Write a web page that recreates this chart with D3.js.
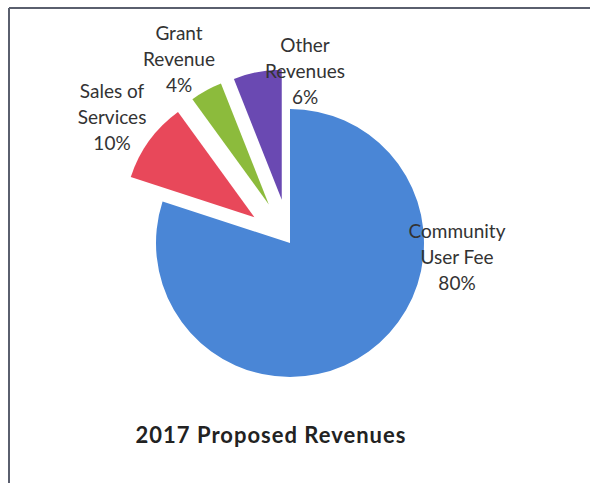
<!DOCTYPE html>
<html>
<head>
<meta charset="utf-8">
<script src="https://cdn.jsdelivr.net/npm/d3@7"></script>
<style>
  html, body { margin: 0; padding: 0; background: #fff; }
  svg { display: block; }
</style>
</head>
<body>
<svg id="chart" width="590" height="483"></svg>
<script>
// Revenue sources, clockwise from 12 o'clock
const categories = ["Community User Fee", "Sales of Services", "Grant Revenue", "Other Revenues"];
const labelLines = [["Community", "User Fee"], ["Sales of", "Services"], ["Grant", "Revenue"], ["Other", "Revenues"]];
const values = [80, 10, 4, 6];
const title = "2017 Proposed Revenues";

const colors = ["#4a86d6", "#e8485a", "#8cbb3c", "#6a49b2"];
const exploded = new Set(["Sales of Services", "Grant Revenue", "Other Revenues"]);

const W = 590, H = 483;
const cx = 290, cy = 243;
const rMain = 134, rOut = 130, explode = 44;

// label anchor (centre of the text block) relative to pie centre
const labelPos = {
  "Community User Fee": [167, 14],
  "Sales of Services": [-178, -126],
  "Grant Revenue": [-111, -184],
  "Other Revenues": [15, -172]
};

const svg = d3.select("#chart");

// frame lines (top and left edges)
svg.append("line").attr("x1", 9).attr("y1", 8).attr("x2", W).attr("y2", 8)
  .attr("stroke", "#5a5f6e").attr("stroke-width", 2);
svg.append("line").attr("x1", 9).attr("y1", 8).attr("x2", 9).attr("y2", H)
  .attr("stroke", "#5a5f6e").attr("stroke-width", 2);

const pie = d3.pie().sort(null).value(d => d.value);
const data = categories.map((c, i) => ({ name: c, value: values[i], lines: labelLines[i], color: colors[i] }));
const arcs = pie(data);

const g = svg.append("g").attr("transform", `translate(${cx},${cy})`);

g.selectAll("path.slice")
  .data(arcs)
  .join("path")
  .attr("class", "slice")
  .attr("fill", d => d.data.color)
  .attr("transform", d => {
    if (!exploded.has(d.data.name)) return null;
    const a = (d.startAngle + d.endAngle) / 2;
    return `translate(${Math.sin(a) * explode},${-Math.cos(a) * explode})`;
  })
  .attr("d", d => d3.arc().innerRadius(0)
    .outerRadius(exploded.has(d.data.name) ? rOut : rMain)(d));

const total = d3.sum(values);
const lineH = 26;

const labels = g.selectAll("text.lbl")
  .data(arcs)
  .join("text")
  .attr("class", "lbl")
  .attr("text-anchor", "middle")
  .attr("font-family", "Lato, 'Open Sans', sans-serif")
  .attr("font-size", 19)
  .attr("fill", "#333");

labels.each(function(d) {
  const [lx, ly] = labelPos[d.data.name];
  const lines = d.data.lines.concat([Math.round(d.data.value / total * 100) + "%"]);
  const y0 = ly - (lines.length - 1) * lineH / 2;
  d3.select(this).selectAll("tspan")
    .data(lines)
    .join("tspan")
    .attr("x", lx)
    .attr("y", (t, i) => y0 + i * lineH)
    .attr("dy", "0.35em")
    .text(t => t);
});

svg.append("text")
  .attr("x", 271).attr("y", 435).attr("dy", "0.35em")
  .attr("text-anchor", "middle")
  .attr("font-family", "Lato, 'Open Sans', sans-serif")
  .attr("font-weight", "bold")
  .attr("font-size", 22)
  .attr("letter-spacing", 1)
  .attr("fill", "#222")
  .text(title);
</script>
</body>
</html>
